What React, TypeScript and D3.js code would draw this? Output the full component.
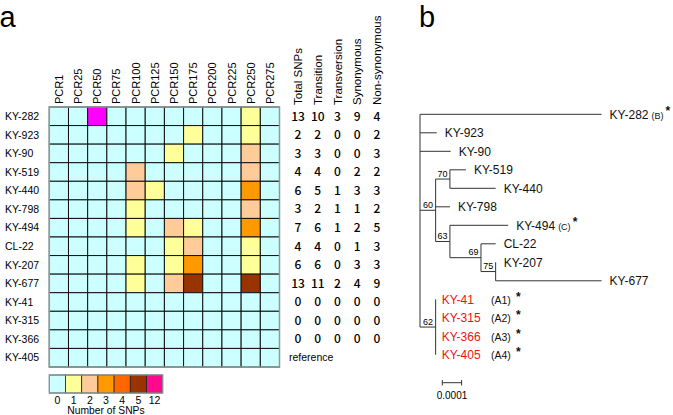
import * as d3 from "d3";

// ---- heatmap data ----
const columns = ["PCR1", "PCR25", "PCR50", "PCR75", "PCR100", "PCR125", "PCR150", "PCR175", "PCR200", "PCR225", "PCR250", "PCR275"];
const strains = ["KY-282", "KY-923", "KY-90", "KY-519", "KY-440", "KY-798", "KY-494", "CL-22", "KY-207", "KY-677", "KY-41", "KY-315", "KY-366", "KY-405"];
// SNP counts per strain (row) and PCR fragment (column)
const snpCounts = [
  [0, 0, 12, 0, 0, 0, 0, 0, 0, 0, 1, 0],
  [0, 0, 0, 0, 0, 0, 0, 1, 0, 0, 1, 0],
  [0, 0, 0, 0, 0, 0, 1, 0, 0, 0, 2, 0],
  [0, 0, 0, 0, 2, 0, 0, 0, 0, 0, 2, 0],
  [0, 0, 0, 0, 2, 1, 0, 0, 0, 0, 3, 0],
  [0, 0, 0, 0, 1, 0, 0, 0, 0, 0, 2, 0],
  [0, 0, 0, 0, 1, 0, 2, 1, 0, 0, 3, 0],
  [0, 0, 0, 0, 0, 0, 1, 2, 0, 0, 1, 0],
  [0, 0, 0, 0, 1, 0, 1, 3, 0, 0, 1, 0],
  [0, 0, 0, 0, 1, 0, 2, 5, 0, 0, 5, 0],
  [0, 0, 0, 0, 0, 0, 0, 0, 0, 0, 0, 0],
  [0, 0, 0, 0, 0, 0, 0, 0, 0, 0, 0, 0],
  [0, 0, 0, 0, 0, 0, 0, 0, 0, 0, 0, 0],
  [0, 0, 0, 0, 0, 0, 0, 0, 0, 0, 0, 0],
];

const legendValues = [0, 1, 2, 3, 4, 5, 12];
const legendColors = ["#ccffff", "#ffff99", "#ffcc99", "#ff9900", "#ff6600", "#993300", "#ff0a8c"];
const cellColors = ["#ccffff", "#ffff99", "#ffcc99", "#ff9900", "#ff6600", "#993300", "#ff00ff"];

// ---- summary table ----
const tableHeaders = ["Total SNPs", "Transition", "Transversion", "Synonymous", "Non-synonymous"];
const totalSnps = [13, 2, 3, 4, 6, 3, 7, 4, 6, 13, 0, 0, 0];
const transitions = [10, 2, 3, 4, 5, 2, 6, 4, 6, 11, 0, 0, 0];
const transversions = [3, 0, 0, 0, 1, 1, 1, 0, 0, 2, 0, 0, 0];
const synonymous = [9, 0, 0, 2, 3, 1, 2, 1, 3, 4, 0, 0, 0];
const nonSynonymous = [4, 2, 3, 2, 3, 2, 5, 3, 3, 9, 0, 0, 0];

// ---- tree: [id, parent, branch length] ----
const treeRows: [string, string, number][] = [
  ["root", "", 0],
  ["KY-282", "root", 0.000941],
  ["KY-923", "root", 0.000087],
  ["KY-90", "root", 0.000159],
  ["n60", "root", 0.000081],
  ["n70", "n60", 0.000074],
  ["KY-519", "n70", 0.000083],
  ["KY-440", "n70", 0.000237],
  ["KY-798", "n60", 0.000074],
  ["n63", "n60", 0.000074],
  ["KY-494", "n63", 0.000302],
  ["n69", "n63", 0.000161],
  ["CL-22", "n69", 0.000076],
  ["n75", "n69", 0.000076],
  ["KY-207", "n75", 0],
  ["KY-677", "n75", 0.000549],
  ["n62", "root", 0.000081],
  ["KY-41", "n62", 0],
  ["KY-315", "n62", 0],
  ["KY-366", "n62", 0],
  ["KY-405", "n62", 0],
];
const bootstrap: Record<string, number> = { n60: 60, n70: 70, n63: 63, n69: 69, n75: 75, n62: 62 };
const typeNotes: Record<string, string> = { "KY-282": "(B)", "KY-494": "(C)", "KY-41": "(A1)", "KY-315": "(A2)", "KY-366": "(A3)", "KY-405": "(A4)" };
const redStrains = ["KY-41", "KY-315", "KY-366", "KY-405"];

const FONT = "'Liberation Sans', Arial, Helvetica, sans-serif";
const NUMFONT = "'Noto Sans CJK JP', 'Liberation Sans Narrow', sans-serif";

const App = () => {
  const x = d3.scaleBand().domain(columns).range([49.3, 279.5]);
  const y = d3.scaleBand().domain(strains).range([107, 367]);
  const color = d3.scaleOrdinal<number, string>().domain(legendValues).range(cellColors);
  const legendX = d3.scaleBand<number>().domain(legendValues).range([49.3, 162.7]);

  const tableCols = [totalSnps, transitions, transversions, synonymous, nonSynonymous];
  const tableX = d3.scalePoint().domain(tableHeaders).range([298, 377]);

  // tree layout
  const root = d3
    .stratify<[string, string, number]>()
    .id((d) => d[0])
    .parentId((d) => (d[1] === "" ? null : d[1]))(treeRows);
  const bx = d3.scaleLinear().domain([0, 0.001]).range([420, 613]);
  const leafY = d3.scaleLinear().domain([0, 1]).range([114.3, 132.8]);
  const pos = new Map<string, { x: number; y: number }>();
  let leafIdx = 0;
  const place = (node: any, acc: number) => {
    const cx = bx(acc);
    if (node.children) {
      node.children.forEach((c: any) => place(c, acc + c.data[2]));
      const ys = node.children.map((c: any) => pos.get(c.id)!.y);
      pos.set(node.id, { x: cx, y: (ys[0] + ys[ys.length - 1]) / 2 });
    } else {
      pos.set(node.id, { x: cx, y: leafY(leafIdx++) });
    }
  };
  place(root, 0);
  const nodes = root.descendants();
  const barLen = bx(0.0001) - bx(0);

  return (
    <div style={{ position: "absolute", left: 0, top: 0 }}>
      <svg width={673} height={415} style={{ display: "block", fontFamily: FONT }}>
        <rect width={673} height={415} fill="#fff" />
        <text x={-0.5} y={26.5} fontSize={29}>a</text>
        <text x={419} y={27} fontSize={29}>b</text>

        {/* column labels */}
        {columns.map((c) => (
          <text key={c} transform={`translate(${x(c)! + x.bandwidth() / 2},104) rotate(-90)`} dy="0.36em" fontSize={11}>
            {c}
          </text>
        ))}
        {/* row labels */}
        {strains.map((s) => (
          <text key={s} x={5} y={y(s)! + y.bandwidth() / 2} dy="0.36em" fontSize={10.5}>
            {s}
          </text>
        ))}
        {/* cells */}
        {snpCounts.map((row, i) =>
          row.map((v, j) => (
            <rect
              key={`${i}-${j}`}
              x={x(columns[j])}
              y={y(strains[i])}
              width={x.bandwidth()}
              height={y.bandwidth()}
              fill={color(v)}
              stroke="#111"
              strokeWidth={1}
            />
          ))
        )}
        <rect x={49.3} y={107} width={230.2} height={260} fill="none" stroke="#8c9a9a" strokeWidth={1.5} />

        {/* legend */}
        {legendValues.map((v, i) => (
          <g key={v}>
            <rect x={legendX(v)} y={375} width={legendX.bandwidth()} height={18} fill={legendColors[i]} stroke="#222" strokeWidth={0.8} />
            <text x={legendX(v)! + legendX.bandwidth() / 2} y={404} textAnchor="middle" fontSize={10.5}>
              {v}
            </text>
          </g>
        ))}
        <rect x={49.3} y={375} width={113.4} height={18} fill="none" stroke="#8c9a9a" strokeWidth={1.2} />
        <text x={106} y={414} textAnchor="middle" fontSize={10.3}>Number of SNPs</text>

        {/* table */}
        {tableHeaders.map((h) => (
          <text key={h} transform={`translate(${tableX(h)},105) rotate(-90)`} dy="0.36em" fontSize={11.5}>
            {h}
          </text>
        ))}
        {tableCols.map((col, j) =>
          col.map((v, i) => (
            <text
              key={`${j}-${i}`}
              x={tableX(tableHeaders[j])}
              y={y(strains[i])! + y.bandwidth() / 2}
              dy="0.36em"
              textAnchor="middle"
              fontSize={12}
              fontWeight={500}
              fontFamily={NUMFONT}
            >
              {v}
            </text>
          ))
        )}
        <text x={289} y={y("KY-405")! + y.bandwidth() / 2} dy="0.36em" fontSize={10.5}>reference</text>

        {/* tree */}
        <g stroke="#333" strokeWidth={1} fill="none">
          {nodes
            .filter((n) => n.parent)
            .map((n) => {
              const p = pos.get(n.id!)!;
              const pp = pos.get(n.parent!.id!)!;
              return <line key={`h-${n.id}`} x1={pp.x} x2={p.x} y1={p.y} y2={p.y} />;
            })}
          {nodes
            .filter((n) => n.children)
            .map((n) => {
              const p = pos.get(n.id!)!;
              const ys = n.children!.map((c) => pos.get(c.id!)!.y);
              return <line key={`v-${n.id}`} x1={p.x} x2={p.x} y1={ys[0]} y2={ys[ys.length - 1]} />;
            })}
        </g>
        {nodes
          .filter((n) => bootstrap[n.id!] !== undefined)
          .map((n) => {
            const p = pos.get(n.id!)!;
            return (
              <text key={`b-${n.id}`} x={p.x - 2.5} y={p.y - 2.5} textAnchor="end" fontSize={9}>
                {bootstrap[n.id!]}
              </text>
            );
          })}
        {nodes
          .filter((n) => !n.children)
          .map((n) => {
            const p = pos.get(n.id!)!;
            const red = redStrains.includes(n.id!);
            const note = typeNotes[n.id!];
            return (
              <text key={`l-${n.id}`} x={p.x + (red ? 6 : 8)} y={p.y} dy="0.36em" fontSize={12} fill={red ? "#ee1111" : "#111"}>
                {n.id}
                {note && !red && (
                  <>
                    <tspan dx={3} fontSize={9}>{note}</tspan>
                    <tspan dx={2} dy={-4} fontSize={12} fontWeight="bold">*</tspan>
                  </>
                )}
                {note && red && (
                  <>
                    <tspan x={491} fontSize={10.5} fill="#111">{note}</tspan>
                    <tspan x={516} dy={-3} fontSize={12} fontWeight="bold" fill="#111">*</tspan>
                  </>
                )}
              </text>
            );
          })}
        {/* scale bar */}
        <g stroke="#333" strokeWidth={1}>
          <line x1={442.3} x2={442.3 + barLen} y1={382.7} y2={382.7} />
          <line x1={442.3} x2={442.3} y1={380} y2={385.5} />
          <line x1={442.3 + barLen} x2={442.3 + barLen} y1={380} y2={385.5} />
        </g>
        <text x={452} y={399} textAnchor="middle" fontSize={10}>0.0001</text>
      </svg>
    </div>
  );
};

export default App;
